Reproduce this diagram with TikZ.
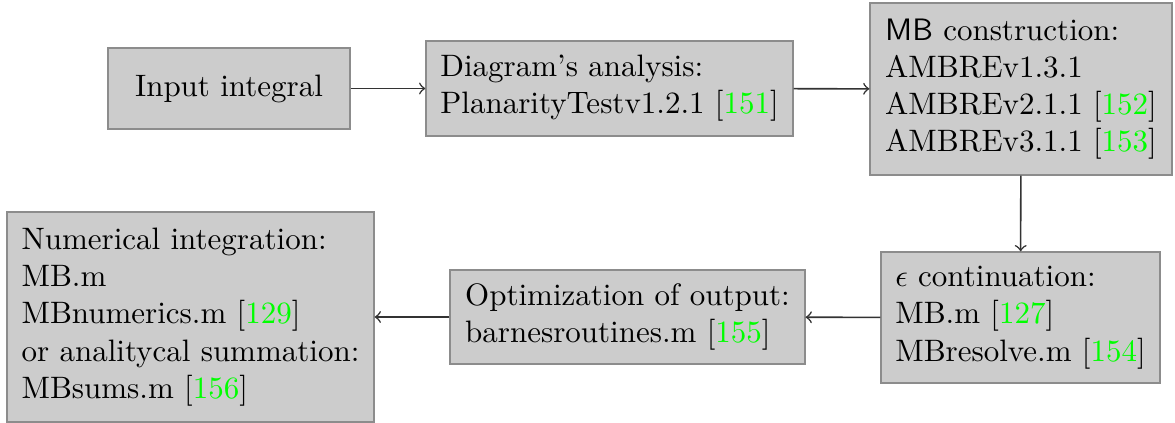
\documentclass[tikz,border=0pt]{standalone}
\usepackage{xcolor}
\begin{document}
\begin{tikzpicture}[x=0.3226pt,y=-0.3226pt,
  box/.style={draw=black!45,fill=black!20,inner sep=4pt,align=left,anchor=center},
  conn/.style={->,black!80,line width=0.5pt},
  cite/.style={}]
\newcommand{\cit}[1]{[\textcolor{green}{#1}]}
\useasboundingbox (0,0) rectangle (1175,423);
\node[box,minimum width=78.1pt,minimum height=26.1pt] (A) at (229,88.5) {Input integral};
\node[box,minimum width=118.4pt,minimum height=30.6pt] (B) at (609.5,88.5) {Diagram's analysis:\\PlanarityTestv1.2.1 \cit{151}};
\node[box,minimum width=97.4pt,minimum height=55.5pt] (C) at (1021,89) {\textsf{MB} construction:\\AMBREv1.3.1\\AMBREv2.1.1 \cit{152}\\AMBREv3.1.1 \cit{153}};
\node[box,minimum width=90pt,minimum height=42.3pt] (D) at (1020.5,317.5) {$\epsilon$ continuation:\\MB.m \cit{127}\\MBresolve.m \cit{154}};
\node[box,minimum width=114.5pt,minimum height=30.3pt] (E) at (627.5,317) {Optimization of output:\\barnesroutines.m \cit{155}};
\node[box,minimum width=118.4pt,minimum height=67.7pt] (F) at (190.5,317) {Numerical integration:\\MB.m\\MBnumerics.m \cit{129}\\or analitycal summation:\\MBsums.m \cit{156}};
\draw[conn] (A) -- (B);
\draw[conn] (B) -- (C);
\draw[conn] (C) -- (D);
\draw[conn] (D) -- (E);
\draw[conn] (E) -- (F);
\end{tikzpicture}
\end{document}
